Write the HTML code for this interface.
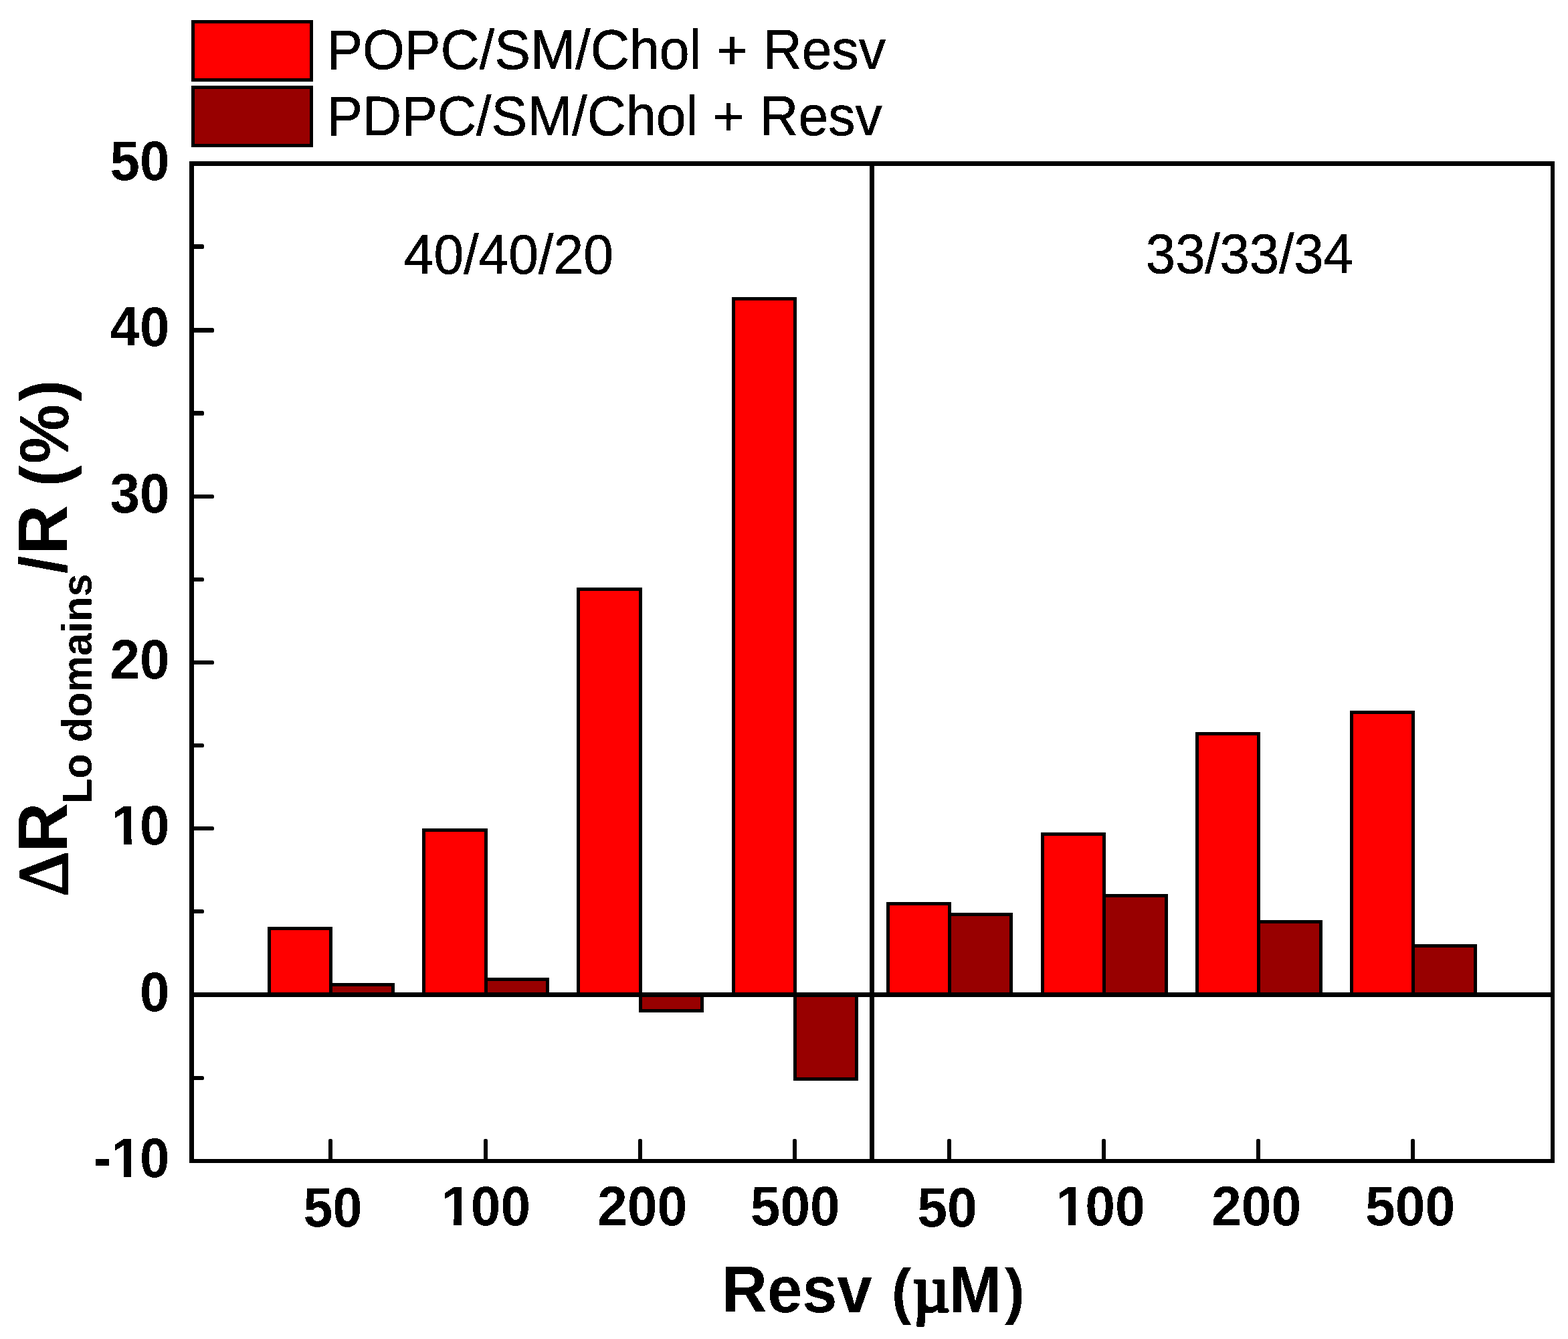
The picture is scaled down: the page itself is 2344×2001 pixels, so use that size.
<!DOCTYPE html>
<html lang="en"><head><meta charset="utf-8"><title>Resv chart</title>
<style>
html,body{margin:0;padding:0;background:#fff;}
body{width:2344px;height:2001px;overflow:hidden;}
svg{display:block;}
text{font-family:"Liberation Sans",sans-serif;fill:#000;}
.b{font-weight:bold;}
.se{font-family:"Liberation Serif",serif;}
</style></head><body>
<svg width="2344" height="2001" viewBox="0 0 2344 2001">
<rect x="0" y="0" width="2344" height="2001" fill="#fff"/>
<g shape-rendering="crispEdges">
<rect x="400" y="1385" width="97" height="105" fill="#000"/>
<rect x="405" y="1390" width="87" height="100" fill="#ff0000"/>
<rect x="492" y="1469" width="98" height="21" fill="#000"/>
<rect x="497" y="1474" width="88" height="16" fill="#980000"/>
<rect x="631" y="1238" width="98" height="252" fill="#000"/>
<rect x="636" y="1243" width="88" height="247" fill="#ff0000"/>
<rect x="724" y="1461" width="97" height="29" fill="#000"/>
<rect x="729" y="1466" width="87" height="24" fill="#980000"/>
<rect x="862" y="878" width="98" height="612" fill="#000"/>
<rect x="867" y="883" width="88" height="607" fill="#ff0000"/>
<rect x="955" y="1483" width="97" height="30" fill="#000"/>
<rect x="960" y="1483" width="87" height="25" fill="#980000"/>
<rect x="1094" y="444" width="97" height="1046" fill="#000"/>
<rect x="1099" y="449" width="87" height="1041" fill="#ff0000"/>
<rect x="1186" y="1483" width="97" height="132" fill="#000"/>
<rect x="1191" y="1483" width="87" height="127" fill="#980000"/>
<rect x="1325" y="1348" width="97" height="142" fill="#000"/>
<rect x="1330" y="1353" width="87" height="137" fill="#ff0000"/>
<rect x="1417" y="1364" width="97" height="126" fill="#000"/>
<rect x="1422" y="1369" width="87" height="121" fill="#980000"/>
<rect x="1556" y="1244" width="97" height="246" fill="#000"/>
<rect x="1561" y="1249" width="87" height="241" fill="#ff0000"/>
<rect x="1648" y="1336" width="98" height="154" fill="#000"/>
<rect x="1653" y="1341" width="88" height="149" fill="#980000"/>
<rect x="1787" y="1094" width="97" height="396" fill="#000"/>
<rect x="1792" y="1099" width="87" height="391" fill="#ff0000"/>
<rect x="1879" y="1375" width="98" height="115" fill="#000"/>
<rect x="1884" y="1380" width="88" height="110" fill="#980000"/>
<rect x="2018" y="1062" width="97" height="428" fill="#000"/>
<rect x="2023" y="1067" width="87" height="423" fill="#ff0000"/>
<rect x="2110" y="1411" width="98" height="79" fill="#000"/>
<rect x="2115" y="1416" width="88" height="74" fill="#980000"/>
<rect x="283" y="241" width="2041" height="7" fill="#000"/>
<rect x="283" y="1732" width="2041" height="6" fill="#000"/>
<rect x="283" y="241" width="7" height="1497" fill="#000"/>
<rect x="2318" y="241" width="6" height="1497" fill="#000"/>
<rect x="283" y="1483" width="2041" height="7" fill="#000"/>
<rect x="1300" y="241" width="7" height="1497" fill="#000"/>
<rect x="286" y="30" width="182" height="92" fill="#000"/>
<rect x="291" y="35" width="172" height="82" fill="#ff0000"/>
<rect x="286" y="128" width="182" height="92" fill="#000"/>
<rect x="291" y="133" width="172" height="82" fill="#980000"/>
</g>
<g fill="#000">
<rect x="284" y="1608" width="21" height="6" rx="2.6"/>
<rect x="284" y="1359" width="21" height="6" rx="2.6"/>
<rect x="284" y="1235" width="36" height="6" rx="2.6"/>
<rect x="284" y="1111" width="21" height="6" rx="2.6"/>
<rect x="284" y="987" width="36" height="6" rx="2.6"/>
<rect x="284" y="863" width="21" height="6" rx="2.6"/>
<rect x="284" y="739" width="36" height="6" rx="2.6"/>
<rect x="284" y="614" width="21" height="7" rx="2.6"/>
<rect x="284" y="490" width="36" height="7" rx="2.6"/>
<rect x="284" y="365" width="21" height="7" rx="2.6"/>
<rect x="491" y="1702" width="6" height="34" rx="2.2"/>
<rect x="723" y="1702" width="6" height="34" rx="2.2"/>
<rect x="954" y="1702" width="6" height="34" rx="2.2"/>
<rect x="1185" y="1702" width="6" height="34" rx="2.2"/>
<rect x="1416" y="1702" width="6" height="34" rx="2.2"/>
<rect x="1647" y="1702" width="6" height="34" rx="2.2"/>
<rect x="1878" y="1702" width="6" height="34" rx="2.2"/>
<rect x="2109" y="1702" width="6" height="34" rx="2.2"/>
</g>
<filter id="al" x="0" y="0" width="2344" height="2001" filterUnits="userSpaceOnUse" color-interpolation-filters="sRGB"><feComponentTransfer><feFuncA type="discrete" tableValues="0 1"/></feComponentTransfer></filter>
<g filter="url(#al)">
<text stroke="#000" stroke-width="0.5" transform="translate(488.28 102.80) scale(1.0000 1.0396)" font-size="80.67">POPC/SM/Chol + Resv</text>
<text stroke="#000" stroke-width="0.5" transform="translate(488.29 201.90) scale(0.9988 1.0414)" font-size="80.67">PDPC/SM/Chol + Resv</text>
<text stroke="#000" stroke-width="0.5" transform="translate(603.75 408.80) scale(0.9977 1.0342)" font-size="80.67">40/40/20</text>
<text stroke="#000" stroke-width="0.5" transform="translate(1712.87 408.40) scale(0.9874 1.0342)" font-size="80.67">33/33/34</text>
<text class="b" transform="translate(164.59 268.68) scale(0.9900 1.0348)" font-size="80.67">50</text>
<text class="b" transform="translate(164.59 516.80) scale(0.9900 1.0348)" font-size="80.67">40</text>
<text class="b" transform="translate(164.59 765.92) scale(0.9900 1.0348)" font-size="80.67">30</text>
<text class="b" transform="translate(164.59 1014.33) scale(0.9900 1.0348)" font-size="80.67">20</text>
<clipPath id="c1"><rect x="-20" y="-80.67" width="65.64" height="72.29"/><rect x="20.45" y="-9.23" width="11.87" height="10.23"/><rect x="45.24" y="-80.67" width="400" height="104.87"/></clipPath>
<text class="b" dx="2.02 -2.02" clip-path="url(#c1)" transform="translate(164.59 1262.05) scale(0.9900 1.0348)" font-size="80.67">10</text>
<text class="b" transform="translate(209.01 1511.17) scale(0.9900 1.0348)" font-size="80.67">0</text>
<clipPath id="c2"><rect x="-20" y="-80.67" width="92.40" height="72.29"/><rect x="47.21" y="-9.23" width="11.87" height="10.23"/><rect x="72.00" y="-80.67" width="400" height="104.87"/></clipPath>
<text class="b" dx="1.52 0.40 -1.92" clip-path="url(#c2)" transform="translate(138.00 1759.08) scale(0.9900 1.0348)" font-size="80.67">-10</text>
<text class="b" transform="translate(453.47 1833.28) scale(0.9793 1.0365)" font-size="80.67">50</text>
<clipPath id="c3"><rect x="-20" y="-80.67" width="64.42" height="72.29"/><rect x="19.23" y="-9.23" width="11.87" height="10.23"/><rect x="44.02" y="-80.67" width="400" height="104.87"/></clipPath>
<text class="b" dx="0.80 -0.80" clip-path="url(#c3)" transform="translate(659.25 1831.28) scale(0.9940 1.0418)" font-size="80.67">100</text>
<text class="b" transform="translate(892.96 1831.28) scale(0.9989 1.0418)" font-size="80.67">200</text>
<text class="b" transform="translate(1121.83 1831.28) scale(0.9938 1.0418)" font-size="80.67">500</text>
<text class="b" transform="translate(1371.27 1833.38) scale(0.9986 1.0400)" font-size="80.67">50</text>
<clipPath id="c4"><rect x="-20" y="-80.67" width="64.42" height="72.29"/><rect x="19.23" y="-9.23" width="11.87" height="10.23"/><rect x="44.02" y="-80.67" width="400" height="104.87"/></clipPath>
<text class="b" dx="0.80 -0.80" clip-path="url(#c4)" transform="translate(1577.39 1831.38) scale(0.9984 1.0435)" font-size="80.67">100</text>
<text class="b" transform="translate(1810.96 1831.28) scale(0.9989 1.0418)" font-size="80.67">200</text>
<text class="b" transform="translate(2041.08 1831.28) scale(0.9965 1.0418)" font-size="80.67">500</text>
<text class="b" transform="translate(1078.00 1960.90) scale(1 1.0407)" font-size="94.10"><tspan dx="1.01">Resv </tspan><tspan font-size="89.39" dx="2.74">(</tspan><tspan class="se" font-weight="normal" font-size="96.00" dx="1.99" dy="-0.96" stroke="#000" stroke-width="3.80" stroke-linejoin="round">µ</tspan><tspan font-size="95.04" dx="-1.38" dy="0.96">M</tspan><tspan font-size="89.39" dx="4.40">)</tspan></text>
<text class="b" transform="translate(101.10 1345.00) rotate(-90) scale(1 1.0360)" font-size="102.67"><tspan class="se" font-weight="normal" font-size="103.00" dx="5.78" dy="-0.68" stroke="#000" stroke-width="3.00" stroke-linejoin="miter">Δ</tspan><tspan dx="-0.78" dy="0.68">R</tspan><tspan font-size="61.25" dx="-1.47" dy="34.75">Lo domains</tspan><tspan font-size="96.00" dx="0.27" dy="-36.20">/</tspan><tspan dx="1.70" dy="1.45">R </tspan><tspan font-size="96.51" dx="-1.11">(</tspan><tspan font-size="100.10" dx="2.18" dy="0.87">%</tspan><tspan font-size="96.51" dx="3.79" dy="-0.87">)</tspan></text>
</g>
</svg>
</body></html>
